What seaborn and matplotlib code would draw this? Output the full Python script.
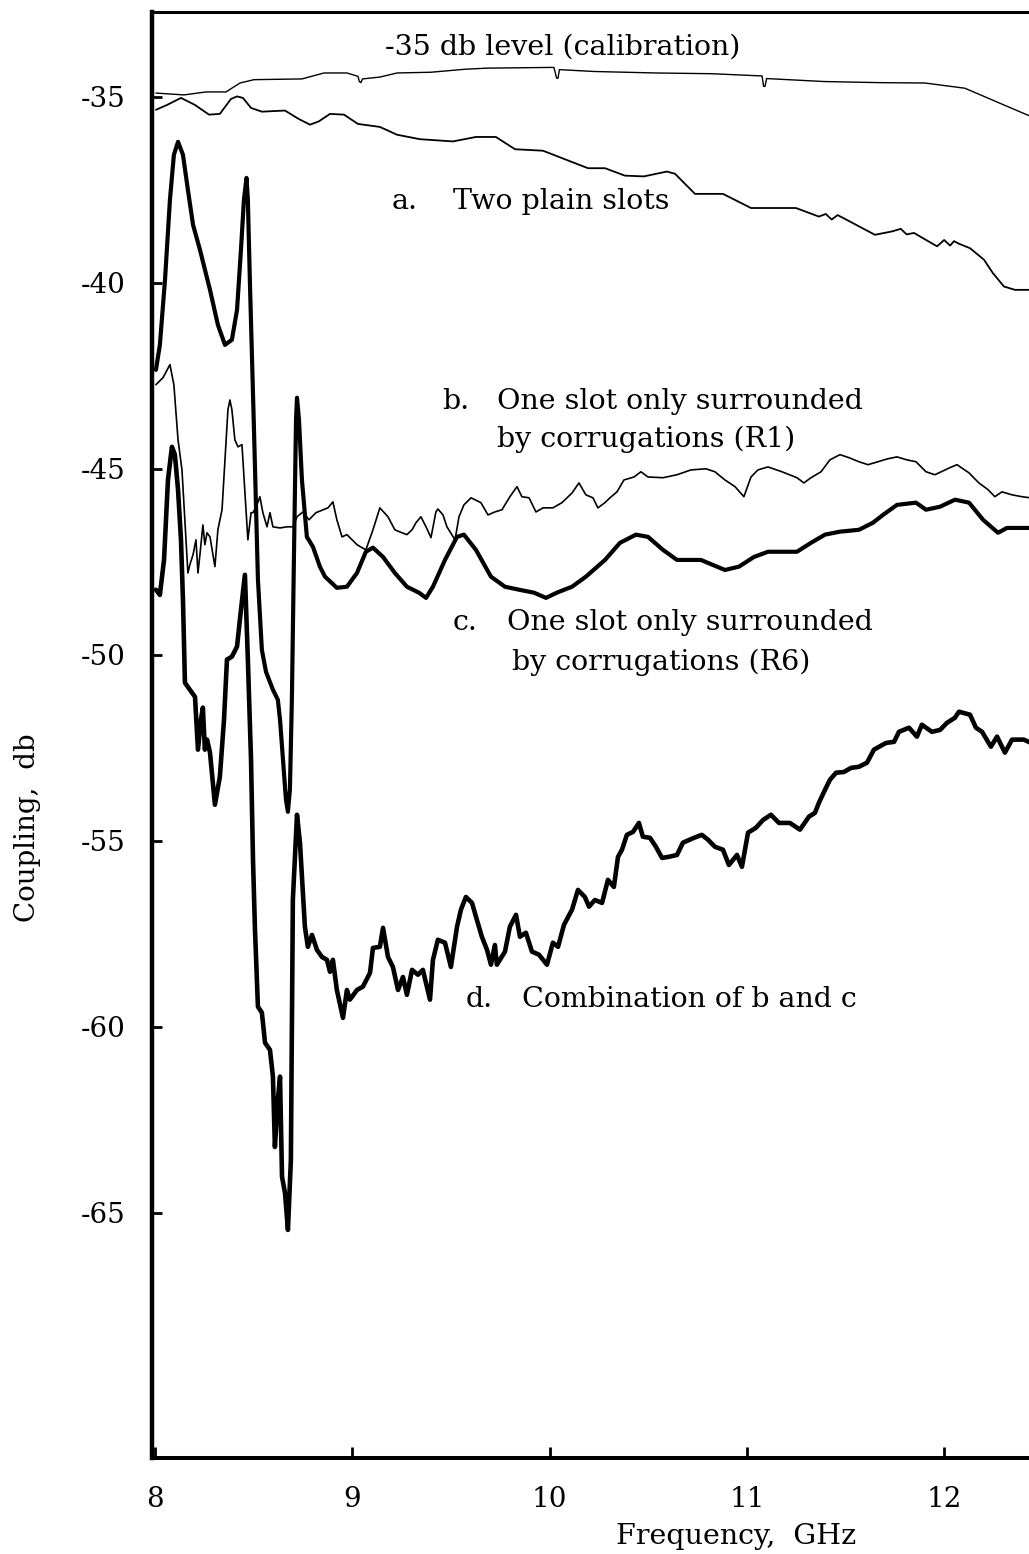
import matplotlib
matplotlib.use("Agg")
import matplotlib.pyplot as plt
import numpy as np
import pandas as pd
import seaborn as sns

# ---------------- data ----------------
cal_freq = [8.005, 8.147, 8.258, 8.360, 8.431, 8.502, 8.745, 8.857, 8.973, 9.029, 9.036, 9.044,
            9.052, 9.140, 9.227, 9.399, 9.571, 9.683, 10.022, 10.036, 10.043, 10.050, 10.225,
            10.539, 10.823, 11.077, 11.085, 11.092, 11.100, 11.391, 11.675, 11.903, 12.105,
            12.303, 12.440]
cal_db = [-34.90, -34.95, -34.87, -34.87, -34.63, -34.54, -34.52, -34.36, -34.36, -34.45, -34.59,
          -34.62, -34.52, -34.47, -34.36, -34.34, -34.26, -34.23, -34.21, -34.50, -34.50, -34.27,
          -34.32, -34.36, -34.38, -34.44, -34.72, -34.72, -34.51, -34.59, -34.62, -34.63, -34.77,
          -35.22, -35.53]

a_freq = [8.005, 8.061, 8.132, 8.203, 8.274, 8.329, 8.385, 8.416, 8.446, 8.487, 8.542, 8.659,
          8.730, 8.786, 8.831, 8.887, 8.958, 9.029, 9.140, 9.227, 9.343, 9.510, 9.627, 9.728,
          9.825, 9.967, 10.083, 10.195, 10.281, 10.382, 10.478, 10.595, 10.636, 10.737, 10.879,
          11.021, 11.249, 11.365, 11.400, 11.430, 11.460, 11.507, 11.649, 11.735, 11.780, 11.810,
          11.847, 11.964, 12.000, 12.030, 12.050, 12.075, 12.131, 12.202, 12.247, 12.303, 12.359,
          12.440]
a_db = [-35.35, -35.22, -35.03, -35.22, -35.48, -35.46, -35.06, -34.99, -35.03, -35.30, -35.40,
        -35.37, -35.60, -35.75, -35.66, -35.46, -35.48, -35.73, -35.81, -36.02, -36.14, -36.20,
        -36.08, -36.08, -36.41, -36.45, -36.69, -36.92, -36.92, -37.12, -37.14, -37.01, -37.07,
        -37.61, -37.61, -37.99, -37.99, -38.22, -38.15, -38.30, -38.18, -38.31, -38.71, -38.62,
        -38.55, -38.70, -38.66, -39.02, -38.85, -39.00, -38.88, -38.95, -39.07, -39.38, -39.74,
        -40.10, -40.19, -40.19]

b_freq = [8.005, 8.041, 8.076, 8.096, 8.117, 8.137, 8.157, 8.167, 8.177, 8.193, 8.208, 8.218,
          8.228, 8.243, 8.253, 8.264, 8.279, 8.304, 8.319, 8.340, 8.370, 8.380, 8.390, 8.405,
          8.421, 8.441, 8.456, 8.471, 8.487, 8.497, 8.517, 8.532, 8.547, 8.568, 8.583, 8.598,
          8.634, 8.669, 8.699, 8.720, 8.750, 8.781, 8.816, 8.877, 8.902, 8.922, 8.948, 8.973,
          9.024, 9.069, 9.105, 9.140, 9.181, 9.216, 9.252, 9.277, 9.303, 9.323, 9.348, 9.374,
          9.399, 9.424, 9.434, 9.460, 9.480, 9.521, 9.541, 9.566, 9.602, 9.652, 9.688, 9.723,
          9.759, 9.799, 9.835, 9.860, 9.896, 9.931, 9.967, 10.017, 10.063, 10.114, 10.149,
          10.184, 10.220, 10.245, 10.281, 10.306, 10.342, 10.377, 10.428, 10.463, 10.499,
          10.575, 10.646, 10.717, 10.793, 10.838, 10.889, 10.940, 10.985, 11.021, 11.056,
          11.107, 11.178, 11.254, 11.289, 11.325, 11.376, 11.421, 11.472, 11.517, 11.568,
          11.614, 11.665, 11.715, 11.761, 11.811, 11.857, 11.908, 11.953, 12.029, 12.065,
          12.126, 12.176, 12.222, 12.257, 12.293, 12.344, 12.394, 12.435]
b_db = [-42.74, -42.55, -42.20, -42.74, -44.22, -45.03, -46.91, -47.80, -47.58, -47.31, -46.91,
        -47.80, -47.31, -46.51, -47.04, -46.72, -46.83, -47.63, -46.64, -46.10, -43.41, -43.15,
        -43.41, -44.22, -44.41, -44.35, -45.65, -46.91, -46.18, -46.18, -45.97, -45.75, -46.18,
        -46.56, -46.18, -46.56, -46.59, -46.56, -46.56, -46.29, -46.16, -46.37, -46.18, -46.05,
        -45.89, -46.37, -46.83, -46.77, -47.04, -47.18, -46.64, -46.05, -46.29, -46.64, -46.72,
        -46.77, -46.64, -46.45, -46.29, -46.56, -46.85, -46.16, -46.08, -46.24, -46.56, -46.91,
        -46.29, -45.97, -45.78, -45.91, -46.24, -46.16, -46.10, -45.75, -45.48, -45.75, -45.78,
        -46.16, -46.05, -46.05, -45.91, -45.65, -45.38, -45.70, -45.78, -46.05, -45.91, -45.78,
        -45.62, -45.30, -45.22, -45.08, -45.22, -45.24, -45.16, -45.03, -45.00, -45.08, -45.30,
        -45.48, -45.75, -45.22, -45.03, -44.95, -45.08, -45.24, -45.38, -45.24, -45.08, -44.76,
        -44.62, -44.70, -44.81, -44.89, -44.81, -44.73, -44.68, -44.76, -44.81, -45.08, -45.16,
        -44.97, -44.89, -45.11, -45.38, -45.56, -45.75, -45.62, -45.70, -45.75, -45.78]

c_freq = [8.005, 8.025, 8.051, 8.076, 8.096, 8.117, 8.142, 8.167, 8.193, 8.228, 8.279, 8.319,
          8.355, 8.390, 8.416, 8.436, 8.451, 8.464, 8.471, 8.481, 8.502, 8.522, 8.542, 8.563,
          8.598, 8.623, 8.634, 8.649, 8.664, 8.674, 8.684, 8.694, 8.705, 8.715, 8.720, 8.730,
          8.745, 8.770, 8.801, 8.836, 8.862, 8.922, 8.973, 9.024, 9.069, 9.105, 9.156, 9.216,
          9.277, 9.338, 9.374, 9.409, 9.470, 9.531, 9.566, 9.627, 9.703, 9.774, 9.845, 9.921,
          9.982, 10.037, 10.114, 10.184, 10.281, 10.357, 10.438, 10.499, 10.575, 10.646,
          10.767, 10.889, 10.960, 11.036, 11.107, 11.254, 11.325, 11.396, 11.472, 11.568,
          11.639, 11.690, 11.761, 11.857, 11.908, 11.979, 12.055, 12.126, 12.197, 12.273,
          12.318, 12.435]
c_db = [-42.34, -41.67, -39.92, -37.77, -36.56, -36.21, -36.56, -37.50, -38.44, -39.11, -40.19,
        -41.13, -41.67, -41.53, -40.73, -39.11, -37.77, -37.18, -37.77, -39.92, -43.95, -47.98,
        -49.87, -50.46, -50.94, -51.21, -51.75, -52.82, -53.90, -54.22, -53.63, -51.21, -47.18,
        -43.68, -43.09, -43.68, -45.30, -46.83, -47.10, -47.63, -47.90, -48.20, -48.17, -47.80,
        -47.23, -47.12, -47.37, -47.80, -48.17, -48.33, -48.47, -48.17, -47.45, -46.83, -46.77,
        -47.18, -47.90, -48.17, -48.25, -48.33, -48.47, -48.33, -48.17, -47.90, -47.45, -46.99,
        -46.77, -46.83, -47.18, -47.45, -47.45, -47.72, -47.63, -47.37, -47.23, -47.23, -46.99,
        -46.77, -46.69, -46.64, -46.45, -46.24, -45.97, -45.91, -46.10, -46.02, -45.83, -45.91,
        -46.37, -46.72, -46.59, -46.59]

d_freq = [8.005, 8.025, 8.046, 8.066, 8.086, 8.101, 8.117, 8.132, 8.142, 8.152, 8.177, 8.203,
          8.218, 8.233, 8.243, 8.253, 8.264, 8.279, 8.304, 8.329, 8.350, 8.365, 8.390, 8.416,
          8.436, 8.456, 8.471, 8.487, 8.497, 8.507, 8.522, 8.542, 8.558, 8.583, 8.598, 8.608,
          8.623, 8.634, 8.644, 8.659, 8.674, 8.689, 8.699, 8.720, 8.735, 8.760, 8.775, 8.796,
          8.821, 8.846, 8.872, 8.887, 8.902, 8.922, 8.953, 8.973, 8.988, 9.024, 9.054, 9.090,
          9.105, 9.140, 9.156, 9.181, 9.206, 9.232, 9.257, 9.277, 9.303, 9.333, 9.358, 9.394,
          9.409, 9.434, 9.470, 9.500, 9.531, 9.551, 9.576, 9.607, 9.627, 9.657, 9.683, 9.703,
          9.723, 9.733, 9.774, 9.799, 9.830, 9.850, 9.880, 9.911, 9.946, 9.987, 10.017, 10.043,
          10.073, 10.114, 10.144, 10.179, 10.200, 10.230, 10.266, 10.296, 10.326, 10.347,
          10.367, 10.392, 10.423, 10.453, 10.473, 10.509, 10.539, 10.570, 10.605, 10.646,
          10.676, 10.732, 10.772, 10.803, 10.838, 10.879, 10.909, 10.950, 10.975, 11.006,
          11.046, 11.082, 11.122, 11.163, 11.218, 11.269, 11.315, 11.345, 11.365, 11.396,
          11.421, 11.452, 11.492, 11.528, 11.568, 11.609, 11.644, 11.705, 11.746, 11.771,
          11.822, 11.862, 11.887, 11.938, 11.979, 12.014, 12.055, 12.075, 12.131, 12.161,
          12.192, 12.237, 12.268, 12.308, 12.344, 12.404, 12.440]
d_db = [-48.25, -48.39, -47.45, -45.30, -44.41, -44.62, -45.56, -46.91, -48.52, -50.75, -50.94,
        -51.13, -52.55, -51.75, -51.42, -52.55, -52.28, -52.63, -54.03, -53.28, -51.75, -50.13,
        -50.05, -49.78, -48.79, -47.85, -50.13, -52.82, -55.51, -57.39, -59.46, -59.62, -60.43,
        -60.62, -61.34, -63.23, -61.96, -61.34, -64.03, -64.46, -65.46, -63.58, -56.59, -54.30,
        -55.05, -57.31, -57.85, -57.53, -57.93, -58.12, -58.20, -58.52, -58.20, -59.01, -59.76,
        -59.01, -59.27, -59.01, -58.92, -58.55, -57.88, -57.85, -57.34, -58.12, -58.39, -59.01,
        -58.66, -59.14, -58.47, -58.60, -58.47, -59.27, -58.20, -57.66, -57.74, -58.39, -57.31,
        -56.85, -56.51, -56.67, -57.04, -57.58, -57.93, -58.33, -57.80, -58.33, -57.98, -57.31,
        -56.99, -57.58, -57.47, -57.98, -58.06, -58.33, -57.74, -57.85, -57.26, -56.85, -56.32,
        -56.51, -56.77, -56.59, -56.67, -56.05, -56.24, -55.43, -55.24, -54.84, -54.76, -54.52,
        -54.89, -54.92, -55.16, -55.46, -55.43, -55.38, -55.05, -54.92, -54.84, -54.97, -55.16,
        -55.24, -55.65, -55.38, -55.70, -54.78, -54.65, -54.44, -54.30, -54.52, -54.52, -54.70,
        -54.35, -54.25, -53.98, -53.63, -53.36, -53.17, -53.15, -53.04, -53.01, -52.90, -52.55,
        -52.37, -52.34, -52.07, -51.96, -52.20, -51.88, -52.07, -52.02, -51.83, -51.69, -51.53,
        -51.61, -51.96, -52.07, -52.47, -52.20, -52.63, -52.28, -52.28, -52.37]

x_ticks = [8, 9, 10, 11, 12]
x_tick_labels = ["8", "9", "10", "11", "12"]
y_ticks = [-35, -40, -45, -50, -55, -60, -65]
y_tick_labels = ["-35", "-40", "-45", "-50", "-55", "-60", "-65"]

# ---------------- styling ----------------
sns.set_theme(style="white")
plt.rcParams["font.family"] = ["DejaVu Serif", "DejaVu Sans"]
plt.rcParams["axes.unicode_minus"] = False
plt.rcParams["text.color"] = "black"
plt.rcParams["axes.labelcolor"] = "black"

frames = []
for name, fx, fy in [("cal", cal_freq, cal_db), ("a", a_freq, a_db), ("b", b_freq, b_db),
                     ("c", c_freq, c_db), ("d", d_freq, d_db)]:
    frames.append(pd.DataFrame({"freq": fx, "db": fy, "series": name}))
df = pd.concat(frames, ignore_index=True)

widths = {"cal": 1.0, "a": 1.3, "b": 1.2, "c": 3.0, "d": 3.3}

fig = plt.figure(figsize=(10.29, 15.54), dpi=100)
ax = fig.add_axes([0.1477, 0.0618, 0.8523, 0.9305])

for name, lw in widths.items():
    sub = df[df["series"] == name]
    sns.lineplot(data=sub, x="freq", y="db", ax=ax, color="black", linewidth=lw,
                 sort=False, estimator=None, legend=False,
                 solid_joinstyle="round", solid_capstyle="round")

ax.set_xlim(7.985, 12.43)
ax.set_ylim(-71.59, -32.72)

ax.set_xticks(x_ticks)
ax.set_xticklabels(x_tick_labels)
ax.set_yticks(y_ticks)
ax.set_yticklabels(y_tick_labels)
ax.tick_params(axis="x", which="major", direction="in", length=8, width=2, pad=20,
               labelsize=20, bottom=True, top=False, color="black", labelcolor="black")
ax.tick_params(axis="y", which="major", direction="in", length=7, width=2, pad=19,
               labelsize=20, left=True, right=False, color="black", labelcolor="black")

for side, lw in [("left", 3.2), ("bottom", 2.9), ("top", 2.2)]:
    ax.spines[side].set_visible(True)
    ax.spines[side].set_linewidth(lw)
    ax.spines[side].set_color("black")
ax.spines["right"].set_visible(False)

ax.set_xlabel("Frequency,  GHz", fontsize=20.5, color="black")
ax.xaxis.set_label_coords(0.666, -0.0546)
ax.xaxis.label.set_va("center")
ax.set_ylabel("Coupling,  db", fontsize=20, color="black")
ax.yaxis.set_label_coords(-0.1425, 0.436)
ax.yaxis.label.set_va("center")

fs = 20.5
txt = dict(fontsize=fs, ha="left", va="center", color="black")
ax.text(9.166, -33.66, "-35 db level (calibration)", **txt)
ax.text(9.201, -37.82, "a.", **txt)
ax.text(9.510, -37.82, "Two plain slots", **txt)
ax.text(9.455, -43.20, "b.", **txt)
ax.text(9.733, -43.20, "One slot only surrounded", **txt)
ax.text(9.733, -44.22, "by corrugations (R1)", **txt)
ax.text(9.510, -49.14, "c.", **txt)
ax.text(9.784, -49.14, "One slot only surrounded", **txt)
ax.text(9.809, -50.19, "by corrugations (R6)", **txt)
ax.text(9.576, -59.27, "d.", **txt)
ax.text(9.860, -59.27, "Combination of b and c", **txt)

fig.savefig("out.png", dpi=100, facecolor="white")
